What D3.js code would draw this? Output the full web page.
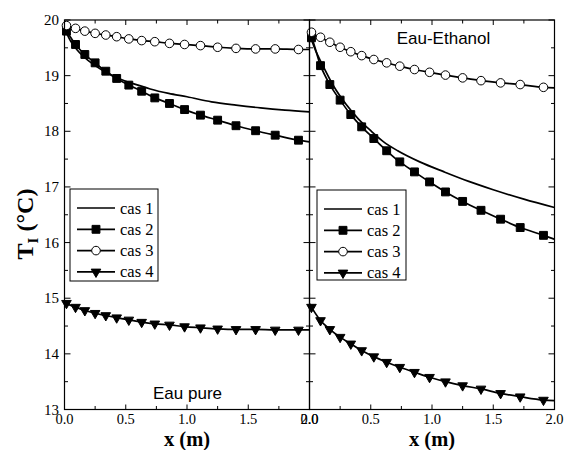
<!DOCTYPE html>
<html>
<head>
<meta charset="utf-8">
<script src="https://cdn.jsdelivr.net/npm/d3@7"></script>
<style>
  body { margin: 0; background: #fff; }
  svg { display: block; }
  .serif { font-family: "Liberation Serif", "Times New Roman", Times, "DejaVu Serif", serif; }
  .sans { font-family: "Liberation Sans", Arial, Helvetica, sans-serif; }
</style>
</head>
<body>
<svg id="chart" width="569" height="450"></svg>
<script>
// ---- data -------------------------------------------------------------
const panelTitles = ["Eau pure", "Eau-Ethanol"];
const seriesNames = ["cas 1", "cas 2", "cas 3", "cas 4"];
const xTickValues = [0, 0.5, 1, 1.5, 2];
const xTickLabels = ["0.0", "0.5", "1.0", "1.5", "2.0"];
const yTickValues = [13, 14, 15, 16, 17, 18, 19, 20];
const yTickLabels = ["13", "14", "15", "16", "17", "18", "19", "20"];

// abscissae of the plotted sample points (shared by cas 2, 3, 4)
const markX = [0.016, 0.09, 0.166, 0.25, 0.337, 0.426, 0.525, 0.63, 0.737,
               0.857, 0.98, 1.11, 1.25, 1.40, 1.56, 1.72, 1.91];

// Eau pure
const eauCas1X = [0, 0.05, 0.1, 0.2, 0.3, 0.4, 0.5, 0.6, 0.7, 0.85, 1.0, 1.2, 1.4, 1.6, 1.8, 2.0];
const eauCas1T = [19.85, 19.62, 19.47, 19.26, 19.11, 18.99, 18.90, 18.83, 18.76, 18.68, 18.62, 18.53, 18.47, 18.42, 18.38, 18.35];
const eauCas2T = [19.80, 19.56, 19.38, 19.23, 19.08, 18.95, 18.83, 18.72, 18.60, 18.50, 18.39, 18.29, 18.20, 18.10, 18.01, 17.93, 17.84];
const eauCas3T = [19.90, 19.85, 19.80, 19.76, 19.73, 19.70, 19.66, 19.63, 19.61, 19.58, 19.56, 19.54, 19.51, 19.49, 19.48, 19.48, 19.47];
const eauCas4T = [14.91, 14.84, 14.78, 14.73, 14.69, 14.65, 14.61, 14.57, 14.54, 14.52, 14.49, 14.47, 14.45, 14.44, 14.44, 14.43, 14.43];
// curve values at x = 0 and x = 2 for cas 2, 3, 4
const eauStartT = [19.85, 19.92, 14.95];
const eauEndT   = [17.81, 19.47, 14.43];

// Eau-Ethanol
const ethCas1X = [0, 0.05, 0.1, 0.2, 0.3, 0.4, 0.5, 0.6, 0.72, 0.9, 1.1, 1.3, 1.5, 1.75, 2.0];
const ethCas1T = [19.75, 19.45, 19.22, 18.80, 18.48, 18.22, 18.01, 17.82, 17.65, 17.45, 17.27, 17.10, 16.95, 16.78, 16.63];
const ethCas2T = [19.68, 19.18, 18.84, 18.56, 18.30, 18.08, 17.87, 17.65, 17.45, 17.27, 17.09, 16.91, 16.74, 16.58, 16.42, 16.27, 16.13];
const ethCas3T = [19.78, 19.69, 19.60, 19.51, 19.43, 19.36, 19.29, 19.23, 19.17, 19.11, 19.06, 19.01, 18.96, 18.91, 18.87, 18.84, 18.79];
const ethCas4T = [14.84, 14.60, 14.44, 14.30, 14.18, 14.06, 13.95, 13.85, 13.76, 13.67, 13.58, 13.50, 13.43, 13.37, 13.29, 13.23, 13.17];
const ethStartT = [19.73, 19.84, 14.90];
const ethEndT   = [16.06, 18.78, 13.16];

// ---- layout -----------------------------------------------------------
const svg = d3.select("#chart");
const plotTop = 20, plotBottom = 409.5;
const panelX = [[64.5, 309.5], [309.5, 554.5]];
const y = d3.scaleLinear().domain([13, 20]).range([plotBottom, plotTop]);

const markerShapes = [null, d3.symbolSquare, d3.symbolCircle, d3.symbolTriangle];
const markerSizes = [0, 62, 58, 40];
const markerFill = [null, "#000", "#fff", "#000"];
const markerRot = [0, 0, 0, 180];

function drawMarker(g, k, cx, cy) {
  g.append("path")
    .attr("d", d3.symbol().type(markerShapes[k]).size(markerSizes[k])())
    .attr("transform", `translate(${cx},${cy}) rotate(${markerRot[k]})`)
    .attr("fill", markerFill[k])
    .attr("stroke", "#000")
    .attr("stroke-width", 1);
}

const panelData = [
  { c1x: eauCas1X, c1t: eauCas1T, marks: [eauCas2T, eauCas3T, eauCas4T], s: eauStartT, e: eauEndT,
    legend: { x: 70, y: 189, w: 88, h: 92 } },
  { c1x: ethCas1X, c1t: ethCas1T, marks: [ethCas2T, ethCas3T, ethCas4T], s: ethStartT, e: ethEndT,
    legend: { x: 317, y: 190, w: 89, h: 90 } }
];

panelData.forEach((pd, p) => {
  const x = d3.scaleLinear().domain([0, 2]).range(panelX[p]);
  const g = svg.append("g");
  const line = d3.line().x(d => x(d[0])).y(d => y(d[1])).curve(d3.curveMonotoneX);

  // cas 1 : plain curve
  g.append("path")
    .datum(pd.c1x.map((v, i) => [v, pd.c1t[i]]))
    .attr("d", line).attr("fill", "none").attr("stroke", "#000").attr("stroke-width", 1.7);

  // cas 2..4 : curve through sample points, then markers
  pd.marks.forEach((vals, j) => {
    const pts = [[0, pd.s[j]]].concat(markX.map((v, i) => [v, vals[i]]), [[2, pd.e[j]]]);
    g.append("path").datum(pts).attr("d", line)
      .attr("fill", "none").attr("stroke", "#000").attr("stroke-width", 1.7);
  });
  pd.marks.forEach((vals, j) => {
    markX.forEach((v, i) => drawMarker(g, j + 1, x(v), y(vals[i])));
  });

  // frame
  const [x0, x1] = panelX[p];
  svg.append("rect").attr("x", x0).attr("y", plotTop).attr("width", x1 - x0).attr("height", plotBottom - plotTop)
    .attr("fill", "none").attr("stroke", "#000").attr("stroke-width", 1.2);

  // x ticks (inward, top and bottom), minor at 0.25
  d3.range(0, 2.001, 0.25).forEach(v => {
    const major = Math.abs(v * 2 - Math.round(v * 2)) < 1e-6;
    const len = major ? 5 : 3.5;
    svg.append("line").attr("x1", x(v)).attr("x2", x(v)).attr("y1", plotBottom).attr("y2", plotBottom - len)
      .attr("stroke", "#000").attr("stroke-width", 1);
    svg.append("line").attr("x1", x(v)).attr("x2", x(v)).attr("y1", plotTop).attr("y2", plotTop + len)
      .attr("stroke", "#000").attr("stroke-width", 1);
  });
  xTickValues.forEach((v, i) => {
    svg.append("text").attr("class", "serif").attr("x", x(v)).attr("y", 424).attr("text-anchor", "middle")
      .attr("font-size", 14.5).text(xTickLabels[i]);
  });

  // y ticks (inward, both sides), minor at 0.5
  d3.range(13, 20.001, 0.5).forEach(v => {
    const major = Math.abs(v - Math.round(v)) < 1e-6;
    const len = major ? 6 : 3.5;
    svg.append("line").attr("x1", x0).attr("x2", x0 + len).attr("y1", y(v)).attr("y2", y(v))
      .attr("stroke", "#000").attr("stroke-width", 1);
    svg.append("line").attr("x1", x1).attr("x2", x1 - len).attr("y1", y(v)).attr("y2", y(v))
      .attr("stroke", "#000").attr("stroke-width", 1);
  });

  // x axis title
  svg.append("text").attr("class", "serif").attr("x", (x0 + x1) / 2).attr("y", 445.5).attr("text-anchor", "middle")
    .attr("font-weight", "bold").attr("font-size", 20.5).text("x (m)");

  // legend
  const L = pd.legend;
  const lg = svg.append("g");
  lg.append("rect").attr("x", L.x).attr("y", L.y).attr("width", L.w).attr("height", L.h)
    .attr("fill", "#fff").attr("stroke", "#000").attr("stroke-width", 1);
  seriesNames.forEach((name, k) => {
    const cy = L.y + 19 + k * 21.3;
    lg.append("line").attr("x1", L.x + 7).attr("x2", L.x + 45).attr("y1", cy).attr("y2", cy)
      .attr("stroke", "#000").attr("stroke-width", 1.7);
    if (k > 0) drawMarker(lg, k, L.x + 26, cy);
    lg.append("text").attr("class", "serif").attr("x", L.x + 50).attr("y", cy + 5.5)
      .attr("font-size", 16.5).text(name);
  });
});

// y tick labels (left panel only)
yTickValues.forEach((v, i) => {
  svg.append("text").attr("class", "serif").attr("x", 59).attr("y", y(v) + 5).attr("text-anchor", "end")
    .attr("font-size", 15).text(yTickLabels[i]);
});

// y axis title  T_I (°C)
const yt = svg.append("text").attr("class", "serif")
  .attr("transform", "translate(33,224) rotate(-90)")
  .attr("text-anchor", "middle")
  .attr("font-weight", "bold").attr("font-size", 24);
yt.append("tspan").text("T");
yt.append("tspan").attr("font-size", 15).attr("dy", 5).text("I");
yt.append("tspan").attr("dy", -5).text(" (°C)");

// panel captions
svg.append("text").attr("class", "sans").attr("x", 187.5).attr("y", 399).attr("text-anchor", "middle")
  .attr("font-size", 17).text(panelTitles[0]);
svg.append("text").attr("class", "sans").attr("x", 443.5).attr("y", 43.5).attr("text-anchor", "middle")
  .attr("font-size", 17).text(panelTitles[1]);
</script>
</body>
</html>
